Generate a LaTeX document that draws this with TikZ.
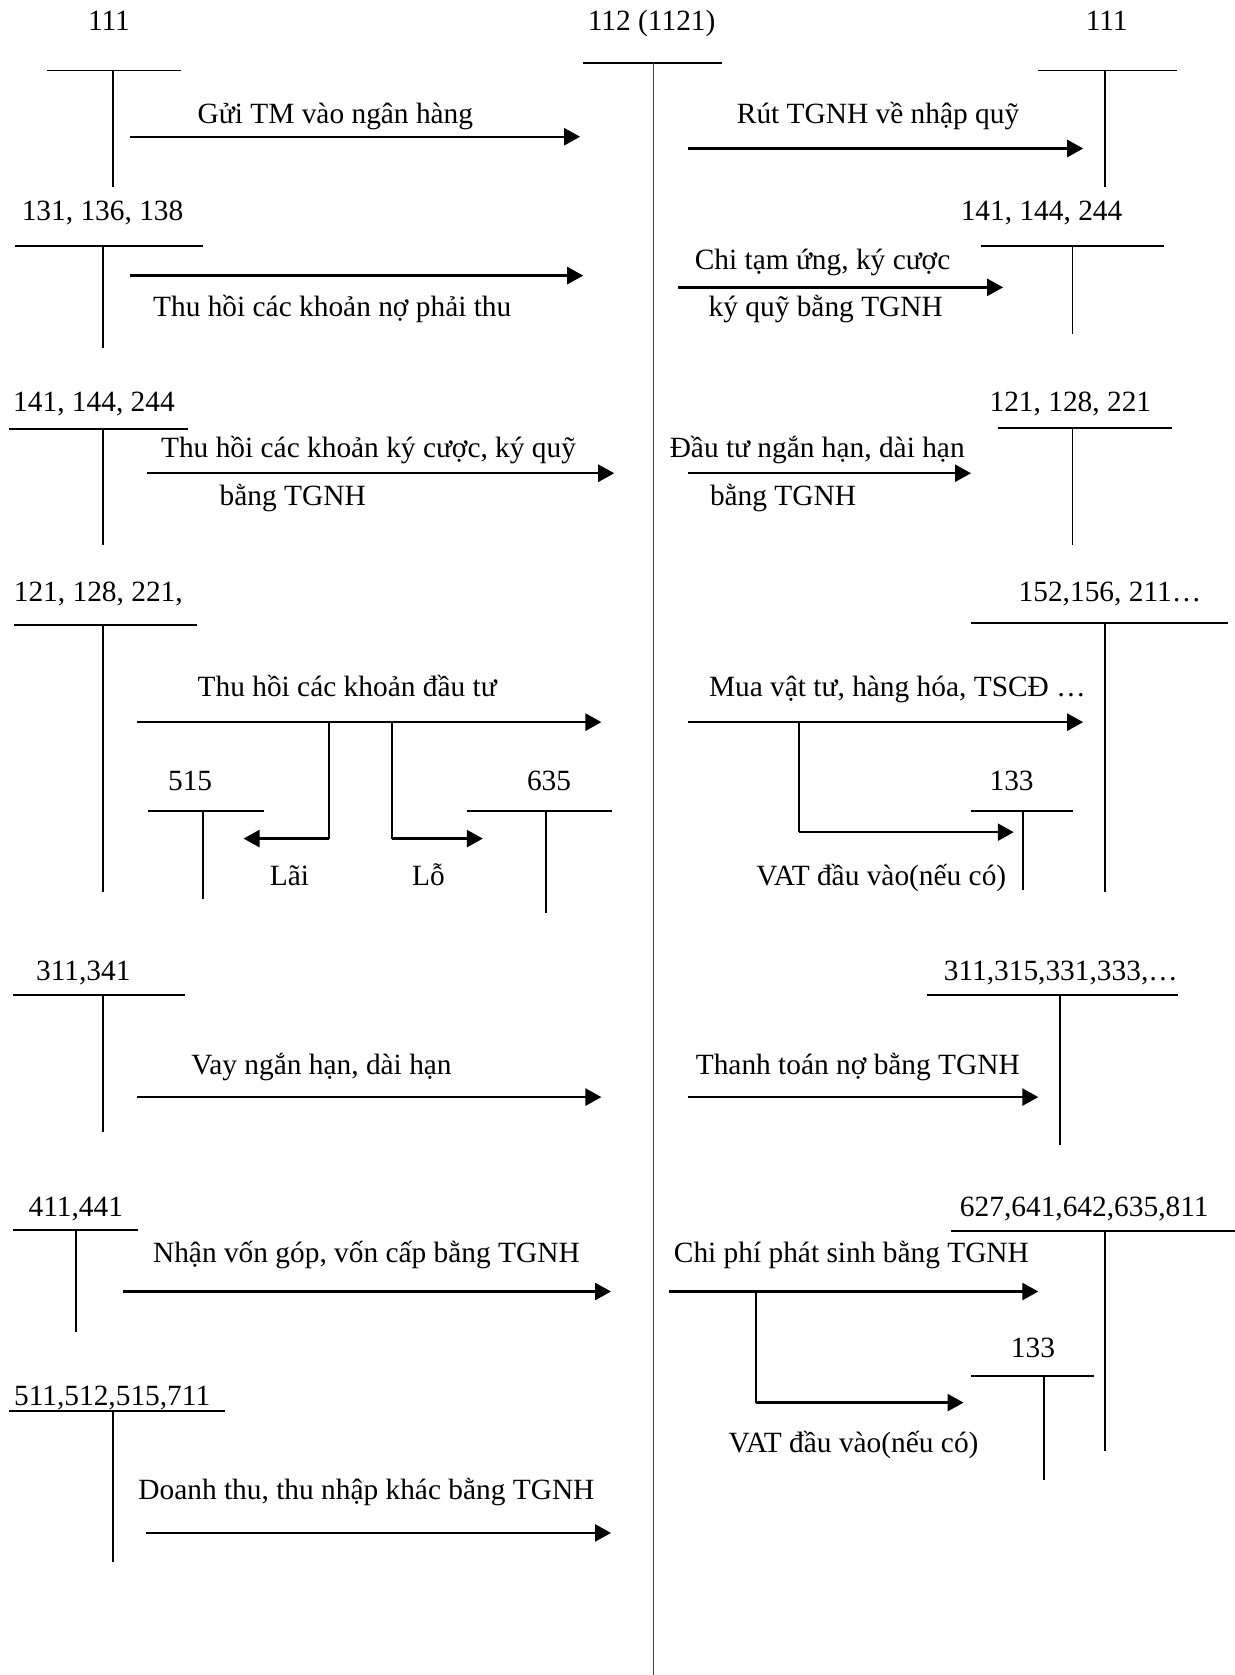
\documentclass[tikz,border=0pt]{standalone}
\usepackage{fontspec}
\setmainfont{Liberation Serif}
\usetikzlibrary{arrows.meta}

\begin{document}
\begin{tikzpicture}[x=0.5pt, y=-0.5pt,
  font=\fontsize{13.75}{16}\selectfont,
  acct/.style={anchor=base, inner sep=0pt},
  txt/.style={anchor=base, inner sep=0pt},
  tline/.style={line width=0.9pt},
  mainline/.style={line width=0.55pt, black!75},
  arr/.style={-{Triangle[length=7.5pt, width=8pt]}, line width=1.1pt}
]
  \useasboundingbox (0,0) rectangle (1156,1568);

  % central account 112
  \node[acct] (a112) at (610,29) {112 (1121)};
  \draw[tline] (546,59) -- (676,59);
  \draw[mainline] (612,59) -- (612,1568);

  % left side
  \node[acct] (a111L) at (102,29) {111};
  \draw[tline] (44,66) -- (169,66);
  \draw[tline] (106,66) -- (106,175);
  \coordinate (gui-s) at (122,128);
  \coordinate (gui-e) at (543,128);
  \draw[arr] (gui-s) -- (gui-e);
  \node[txt] (lgui) at (314,116) {Gửi TM vào ngân hàng};

  \node[acct] (a131) at (96,206) {131, 136, 138};
  \draw[tline] (14,230) -- (190,230);
  \draw[tline] (96,230) -- (96,326);
  \coordinate (no-s) at (122,258);
  \coordinate (no-e) at (546,258);
  \draw[arr] (no-s) -- (no-e);
  \node[txt] (lno) at (311,296) {Thu hồi các khoản nợ phải thu};

  \node[acct] (a141L) at (88,385) {141, 144, 244};
  \draw[tline] (8,402) -- (176,402);
  \draw[tline] (96,402) -- (96,510);
  \coordinate (kc-s) at (138,443);
  \coordinate (kc-e) at (575,443);
  \draw[arr] (kc-s) -- (kc-e);
  \node[txt] (lkc1) at (345,428) {Thu hồi các khoản ký cược, ký quỹ};
  \node[txt] (lkc2) at (274,473) {bằng TGNH};

  \node[acct] (a121L) at (92,563) {121, 128, 221,};
  \draw[tline] (13,585) -- (184,585);
  \draw[tline] (96,585) -- (96,835);
  \coordinate (dt-s) at (128,676);
  \coordinate (dt-e) at (563,676);
  \draw[arr] (dt-s) -- (dt-e);
  \node[txt] (ldt) at (325,652) {Thu hồi các khoản đầu tư};
  \coordinate (lai-a) at (308,676);
  \coordinate (lai-b) at (308,785);
  \coordinate (lai-e) at (228,785);
  \draw[tline] (lai-a) -- (lai-b);
  \draw[arr] (lai-b) -- (lai-e);
  \node[txt] (llai) at (271,829) {Lãi};
  \coordinate (lo-a) at (367,676);
  \coordinate (lo-b) at (367,785);
  \coordinate (lo-e) at (452,785);
  \draw[tline] (lo-a) -- (lo-b);
  \draw[arr] (lo-b) -- (lo-e);
  \node[txt] (llo) at (401,829) {Lỗ};
  \node[acct] (a515) at (178,740) {515};
  \draw[tline] (139,759) -- (247,759);
  \draw[tline] (190,759) -- (190,842);
  \node[acct] (a635) at (514,740) {635};
  \draw[tline] (437,759) -- (573,759);
  \draw[tline] (511,759) -- (511,855);

  \node[acct] (a311L) at (78,918) {311,341};
  \draw[tline] (12,931) -- (173,931);
  \draw[tline] (96,931) -- (96,1060);
  \coordinate (vay-s) at (128,1027);
  \coordinate (vay-e) at (563,1027);
  \draw[arr] (vay-s) -- (vay-e);
  \node[txt] (lvay) at (301,1006) {Vay ngắn hạn, dài hạn};

  \node[acct] (a411) at (71,1139) {411,441};
  \draw[tline] (12,1151) -- (129,1151);
  \draw[tline] (71,1151) -- (71,1247);
  \coordinate (von-s) at (115,1209);
  \coordinate (von-e) at (572,1209);
  \draw[arr] (von-s) -- (von-e);
  \node[txt] (lvon) at (343,1182) {Nhận vốn góp, vốn cấp bằng TGNH};

  \node[acct] (a511) at (105,1316) {511,512,515,711};
  \draw[tline] (8,1321) -- (211,1321);
  \draw[tline] (106,1321) -- (106,1462);
  \coordinate (dthu-s) at (137,1435);
  \coordinate (dthu-e) at (572,1435);
  \draw[arr] (dthu-s) -- (dthu-e);
  \node[txt] (ldthu) at (343,1404) {Doanh thu, thu nhập khác bằng TGNH};

  % right side
  \node[acct] (a111R) at (1036,29) {111};
  \draw[tline] (972,66) -- (1102,66);
  \draw[tline] (1034,66) -- (1034,175);
  \coordinate (rut-s) at (644,139);
  \coordinate (rut-e) at (1014,139);
  \draw[arr] (rut-s) -- (rut-e);
  \node[txt] (lrut) at (822,116) {Rút TGNH về nhập quỹ};

  \node[acct] (a141R) at (975,206) {141, 144, 244};
  \draw[tline] (918,230) -- (1090,230);
  \draw[tline] (1004,230) -- (1004,313);
  \coordinate (tu-s) at (635,269);
  \coordinate (tu-e) at (939,269);
  \draw[arr] (tu-s) -- (tu-e);
  \node[txt] (ltu1) at (770,252) {Chi tạm ứng, ký cược};
  \node[txt] (ltu2) at (773,296) {ký quỹ bằng TGNH};

  \node[acct] (a121R) at (1002,385) {121, 128, 221};
  \draw[tline] (934,401) -- (1097,401);
  \draw[tline] (1004,401) -- (1004,510);
  \coordinate (dtu-s) at (644,443);
  \coordinate (dtu-e) at (909,443);
  \draw[arr] (dtu-s) -- (dtu-e);
  \node[txt] (ldtu1) at (765,428) {Đầu tư ngắn hạn, dài hạn};
  \node[txt] (ldtu2) at (733,473) {bằng TGNH};

  \node[acct] (a152) at (1039,563) {152,156, 211…};
  \draw[tline] (909,583) -- (1150,583);
  \draw[tline] (1034,583) -- (1034,835);
  \coordinate (mua-s) at (644,676);
  \coordinate (mua-e) at (1014,676);
  \draw[arr] (mua-s) -- (mua-e);
  \node[txt] (lmua) at (840,652) {Mua vật tư, hàng hóa, TSCĐ …};
  \coordinate (vat1-a) at (748,676);
  \coordinate (vat1-b) at (748,779);
  \coordinate (vat1-e) at (949,779);
  \draw[tline] (vat1-a) -- (vat1-b);
  \draw[arr] (vat1-b) -- (vat1-e);
  \node[txt] (lvat1) at (825,829) {VAT đầu vào(nếu có)};
  \node[acct] (a133a) at (947,740) {133};
  \draw[tline] (909,759) -- (1004,759);
  \draw[tline] (958,759) -- (958,833);

  \node[acct] (a311R) at (993,918) {311,315,331,333,…};
  \draw[tline] (868,931) -- (1103,931);
  \draw[tline] (992,931) -- (992,1072);
  \coordinate (tt-s) at (644,1027);
  \coordinate (tt-e) at (972,1027);
  \draw[arr] (tt-s) -- (tt-e);
  \node[txt] (ltt) at (803,1006) {Thanh toán nợ bằng TGNH};

  \node[acct] (a627) at (1015,1139) {627,641,642,635,811};
  \draw[tline] (890,1152) -- (1156,1152);
  \draw[tline] (1034,1152) -- (1034,1358);
  \coordinate (cp-s) at (626,1209);
  \coordinate (cp-e) at (972,1209);
  \draw[arr] (cp-s) -- (cp-e);
  \node[txt] (lcp) at (797,1182) {Chi phí phát sinh bằng TGNH};
  \coordinate (vat2-a) at (708,1209);
  \coordinate (vat2-b) at (708,1313);
  \coordinate (vat2-e) at (902,1313);
  \draw[tline] (vat2-a) -- (vat2-b);
  \draw[arr] (vat2-b) -- (vat2-e);
  \node[txt] (lvat2) at (799,1360) {VAT đầu vào(nếu có)};
  \node[acct] (a133b) at (967,1271) {133};
  \draw[tline] (909,1288) -- (1024,1288);
  \draw[tline] (977,1288) -- (977,1385);
\end{tikzpicture}
\end{document}
